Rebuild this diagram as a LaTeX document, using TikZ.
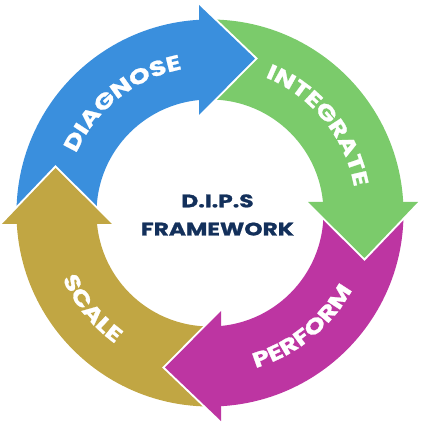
\documentclass[tikz,border=0pt]{standalone}
\usepackage{fontspec}
\usepackage{xcolor}
\usepackage{tikz}
\usetikzlibrary{positioning,decorations.text}

\newfontfamily\dipsfont{Poppins}[FakeStretch=1.28, BoldFeatures={FakeBold=1.2}]
\newcommand{\ringfont}{\dipsfont\bfseries\fontsize{18}{18}\selectfont}
\newcommand{\Rout}{193.5}
\newcommand{\Rin}{113.5}

\definecolor{dipsblue}{HTML}{3A8FDD}
\definecolor{dipsgreen}{HTML}{7BCB6B}
\definecolor{dipsmagenta}{HTML}{BD35A2}
\definecolor{dipsolive}{HTML}{C1A643}
\definecolor{dipsnavy}{HTML}{13305B}

\begin{document}
\begin{tikzpicture}[x=0.03cm, y=0.03cm,
	headline/.style={draw=white, line width=1.2mm, line join=miter},
	ringlabel/.style={decorate, decoration={text along path, text align=center, text color=white, text={|\ringfont|#1}}}]
	\useasboundingbox (-210,-214) rectangle (217,213);

	% quarters of the ring
	\foreach \col/\a in {dipsblue/180, dipsgreen/90, dipsmagenta/0, dipsolive/-90} {
		\fill[\col] (\a:\Rout) arc[start angle=\a, end angle=\a-90, radius=\Rout]
			-- (\a-90:\Rin) arc[start angle=\a-90, end angle=\a, radius=\Rin] -- cycle;
	}

	% arrow heads
	\foreach \col [count=\i from 0] in {dipsblue, dipsgreen, dipsmagenta, dipsolive} {
		\begin{scope}[rotate=-90*\i]
			\draw[headline] (-11,208) -- (45,154.5) -- (-11,98);
			\fill[\col] (-11,208) -- (45,154.5) -- (-11,98) -- cycle;
		\end{scope}
	}

	% labels
	\path[ringlabel=DIAGNOSE] (168.5:146.5) arc[start angle=168.5, end angle=88.5, radius=146.5];
	\path[ringlabel=INTEGRATE] (79:146.5) arc[start angle=79, end angle=-1, radius=146.5];
	\path[ringlabel=PERFORM] (-91:161.5) arc[start angle=-91, end angle=-11, radius=161.5];
	\path[ringlabel=SCALE] (-181:161.5) arc[start angle=-181, end angle=-101, radius=161.5];

	\node[text=dipsnavy, font=\dipsfont\bfseries\fontsize{15.5}{24}\selectfont, align=center] (title) at (7.5,-2) {D.I.P.S\\FRAMEWORK};
\end{tikzpicture}
\end{document}
